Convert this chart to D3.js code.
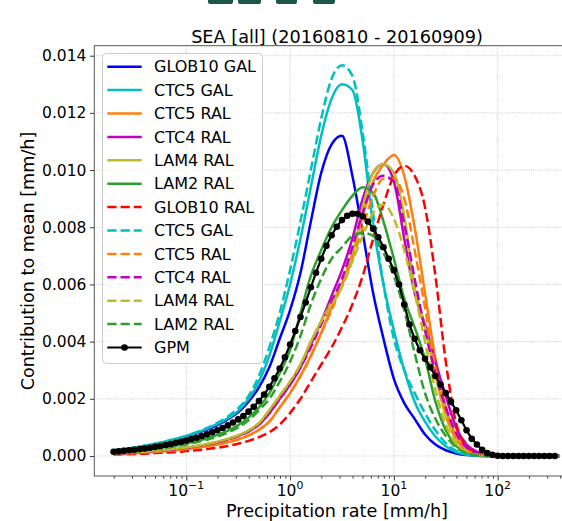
<!DOCTYPE html>
<html><head><meta charset="utf-8">
<script src="https://cdn.jsdelivr.net/npm/d3@7"></script>
<style>
body{margin:0;background:#fff;overflow:hidden}
svg{display:block;font-family:"DejaVu Sans",sans-serif}
</style>
</head><body>
<svg id="chart" width="562" height="521"></svg>
<script>
// ---------------- DATA ----------------
// precipitation-rate bin centres [mm/h] for the model curves
const rates = [0.01995,0.02512,0.03162,0.03981,0.05012,0.0631,0.07943,
  0.1,0.1259,0.1585,0.1995,0.2512,0.3162,0.3981,0.5012,0.631,0.7943,
  1,1.259,1.585,1.995,2.512,3.162,3.981,5.012,6.31,7.943,
  10,12.59,15.85,19.95,25.12,31.62,39.81,50.12,63.1,79.43,
  100,125.9,158.5,199.5,251.2,316.2,398.1];
// bin centres for the GPM observations (marker points)
const gpmRates = [0.01995,0.02239,0.02512,0.02818,0.03162,0.03548,0.03981,0.04467,0.05012,0.05623,0.0631,0.07079,0.07943,0.08913,
  0.1,0.1122,0.1259,0.1413,0.1585,0.1778,0.1995,0.2239,0.2512,0.2818,0.3162,0.3548,0.3981,0.4467,0.5012,0.5623,0.631,0.7079,0.7943,0.8913,
  1,1.122,1.259,1.413,1.585,1.778,1.995,2.239,2.512,2.818,3.162,3.548,3.981,4.467,5.012,5.623,6.31,7.079,7.943,8.913,
  10,11.22,12.59,14.13,15.85,17.78,19.95,22.39,25.12,28.18,31.62,35.48,39.81,44.67,50.12,56.23,63.1,70.79,79.43,89.13,
  100,112.2,125.9,141.3,158.5,177.8,199.5,223.9,251.2,281.8,316.2,354.8];

const glob10Gal = [0.00017,0.00022,0.00027,0.00033,0.0004,0.00048,0.00057,
  0.00067,0.00079,0.00092,0.00108,0.00128,0.00153,0.0019,0.0024,0.0031,0.0041,
  0.0051,0.0064,0.0082,0.0099,0.0109,0.0112,0.0098,0.0078,0.0057,0.0041,
  0.0027,0.00185,0.0013,0.00075,0.0004,0.0002,0.00009,0.00003,0.00001,0,
  0,0,0,0,0,0,0];
const ctc5Gal = [0.0002,0.00025,0.0003,0.00036,0.00043,0.00051,0.0006,
  0.0007,0.00082,0.00096,0.00112,0.00132,0.00158,0.002,0.0026,0.0035,0.0047,
  0.006,0.0076,0.0094,0.0112,0.0125,0.013,0.0128,0.011,0.0081,0.006,
  0.0044,0.003,0.0019,0.0012,0.00068,0.00034,0.00014,0.00005,0.00001,0,
  0,0,0,0,0,0,0];
const ctc5Ral = [0.00007,0.00008,0.0001,0.00012,0.00014,0.00017,0.0002,
  0.00024,0.00029,0.00034,0.0004,0.00048,0.00058,0.00072,0.00092,0.0012,0.0017,
  0.0022,0.0028,0.0035,0.0043,0.0052,0.006,0.0071,0.0084,0.0096,0.0102,
  0.01053,0.0098,0.008,0.0057,0.0034,0.0017,0.0007,0.00027,0.0001,0.00003,
  0,0,0,0,0,0,0];
const ctc4Ral = [0.00008,0.0001,0.00012,0.00014,0.00017,0.0002,0.00024,
  0.00029,0.00034,0.0004,0.00048,0.00058,0.0007,0.00086,0.0011,0.0015,0.002,
  0.0025,0.0031,0.0039,0.0047,0.0056,0.0065,0.0076,0.009,0.0099,0.0102,
  0.0096,0.0076,0.0057,0.0046,0.0033,0.0021,0.001,0.0004,0.00015,0.00004,
  0.00001,0,0,0,0,0,0];
const lam4Ral = [0.00009,0.00011,0.00013,0.00015,0.00018,0.00021,0.00025,
  0.0003,0.00035,0.00042,0.0005,0.0006,0.00072,0.00089,0.00115,0.0016,0.0021,
  0.0026,0.0032,0.004,0.0047,0.0054,0.006,0.007,0.0087,0.0099,0.0102,
  0.0099,0.0084,0.0059,0.0045,0.0028,0.0014,0.00055,0.0002,0.00006,0.00001,
  0,0,0,0,0,0,0];
const lam2Ral = [0.00012,0.00015,0.00018,0.00022,0.00026,0.00031,0.00037,
  0.00044,0.00052,0.00062,0.00074,0.00089,0.00108,0.00135,0.0017,0.0022,0.0029,
  0.0037,0.005,0.0063,0.0072,0.008,0.0086,0.0091,0.0094,0.0092,0.0082,
  0.0069,0.0055,0.0045,0.0034,0.0019,0.0009,0.00035,0.00012,0.00003,0,
  0,0,0,0,0,0,0];
const glob10RalB = [0.00005,0.00006,0.00007,0.00008,0.0001,0.00012,0.00014,
  0.00017,0.0002,0.00024,0.00029,0.00035,0.00043,0.00053,0.00066,0.00083,0.0011,
  0.0015,0.002,0.0026,0.0032,0.0038,0.0045,0.0053,0.0063,0.0076,0.0088,
  0.0098,0.01015,0.0098,0.0087,0.0063,0.0033,0.00114,0.00033,0.0001,0.00002,
  0,0,0,0,0,0,0];
const ctc5GalB = [0.0002,0.00025,0.0003,0.00036,0.00043,0.00051,0.0006,
  0.0007,0.00083,0.00098,0.00116,0.00138,0.00167,0.0021,0.0028,0.0038,0.005,
  0.0065,0.0082,0.01,0.0118,0.0132,0.01367,0.0133,0.0113,0.0085,0.006,
  0.0041,0.003,0.0022,0.0015,0.0009,0.00045,0.00018,0.00006,0.00001,0,
  0,0,0,0,0,0,0];
const ctc5RalB = [0.00007,0.00008,0.0001,0.00012,0.00014,0.00017,0.0002,
  0.00024,0.00029,0.00034,0.0004,0.00048,0.00058,0.00072,0.00092,0.0012,0.0017,
  0.0022,0.0028,0.0035,0.0043,0.0051,0.006,0.0069,0.008,0.0091,0.0097,
  0.0097,0.009,0.0072,0.0052,0.0031,0.0015,0.0006,0.0002,0.00006,0.00001,
  0,0,0,0,0,0,0];
const ctc4RalB = [0.00008,0.0001,0.00012,0.00014,0.00017,0.0002,0.00024,
  0.00029,0.00034,0.0004,0.00048,0.00058,0.0007,0.00086,0.0011,0.0015,0.002,
  0.0025,0.0031,0.0038,0.0046,0.0054,0.0062,0.0073,0.0085,0.0095,0.0098,
  0.0096,0.0081,0.0062,0.0044,0.0029,0.0017,0.0008,0.0003,0.0001,0.00002,
  0,0,0,0,0,0,0];
const lam4RalB = [0.00009,0.00011,0.00013,0.00015,0.00018,0.00021,0.00025,
  0.0003,0.00035,0.00042,0.0005,0.0006,0.00072,0.00089,0.00115,0.0016,0.0021,
  0.0026,0.0032,0.004,0.0047,0.0053,0.0059,0.0068,0.0077,0.0085,0.0088,
  0.0083,0.0072,0.0057,0.004,0.0023,0.0011,0.00042,0.00014,0.00004,0.00001,
  0,0,0,0,0,0,0];
const lam2RalB = [0.0001,0.00013,0.00016,0.0002,0.00024,0.00029,0.00034,
  0.0004,0.00048,0.00057,0.00068,0.00082,0.001,0.00125,0.0016,0.002,0.0026,
  0.0033,0.0042,0.0053,0.0062,0.0069,0.0073,0.0077,0.0078,0.0077,0.0071,
  0.0063,0.0051,0.0036,0.0022,0.0013,0.0007,0.0003,0.0001,0.00002,0,
  0,0,0,0,0,0,0];
const gpm = [0.00015,0.00016,0.00018,0.0002,0.00022,0.00024,0.00026,0.00029,0.00032,0.00035,0.00038,0.00042,0.00046,0.0005,
  0.00054,0.00059,0.00064,0.0007,0.00076,0.00083,0.0009,0.00098,0.00107,0.00117,0.00128,0.0014,0.00155,0.00172,0.00192,0.00215,0.00242,0.00272,0.00306,0.00345,
  0.0039,0.00437,0.00486,0.00537,0.0059,0.00641,0.0069,0.00735,0.00772,0.00802,0.00825,0.0084,0.00847,0.00847,0.00838,0.0082,0.00795,0.00765,0.0073,0.0069,
  0.0065,0.006,0.0053,0.0046,0.0041,0.0037,0.0034,0.0031,0.0028,0.0025,0.0022,0.0019,0.0016,0.00125,0.0009,0.0006,0.0004,0.00022,0.0001,0.00004,
  0.00001,0,0,0,0,0,0,0,0,0,0,0];

const seriesNames = ["GLOB10 GAL","CTC5 GAL","CTC5 RAL","CTC4 RAL","LAM4 RAL","LAM2 RAL",
  "GLOB10 RAL","CTC5 GAL","CTC5 RAL","CTC4 RAL","LAM4 RAL","LAM2 RAL","GPM"];
const yTicks = [0,0.002,0.004,0.006,0.008,0.010,0.012,0.014];
const xTickExps = [-1,0,1,2];
const titleText = "SEA [all] (20160810 - 20160909)";
const xLabel = "Precipitation rate [mm/h]";
const yLabel = "Contribution to mean [mm/h]";

// ---------------- STYLE ----------------
const seriesList = [
  {name: seriesNames[0], values: glob10Gal, color: "#0000ff", dash: null},
  {name: seriesNames[1], values: ctc5Gal, color: "#00bfbf", dash: null},
  {name: seriesNames[2], values: ctc5Ral, color: "#ff7f0e", dash: null},
  {name: seriesNames[3], values: ctc4Ral, color: "#bf00bf", dash: null},
  {name: seriesNames[4], values: lam4Ral, color: "#bcbd22", dash: null},
  {name: seriesNames[5], values: lam2Ral, color: "#2ca02c", dash: null},
  {name: seriesNames[6], values: glob10RalB, color: "#ff0000", dash: "9.25,4"},
  {name: seriesNames[7], values: ctc5GalB, color: "#00bfbf", dash: "9.25,4"},
  {name: seriesNames[8], values: ctc5RalB, color: "#ff7f0e", dash: "9.25,4"},
  {name: seriesNames[9], values: ctc4RalB, color: "#bf00bf", dash: "9.25,4"},
  {name: seriesNames[10], values: lam4RalB, color: "#bcbd22", dash: "9.25,4"},
  {name: seriesNames[11], values: lam2RalB, color: "#2ca02c", dash: "9.25,4"}
];

const svg = d3.select("#chart");
const L = 94.3, R = 580, T = 45.7, B = 476;

const x = d3.scaleLog().domain([Math.pow(10,-1.886), Math.pow(10,2.793)]).range([L, R]);
const y = d3.scaleLinear().domain([-0.0007, 0.01435]).range([B, T]);

// decorative remnants at the top edge
const topBlocks = [[208,233],[238,261],[276,297],[313,335]];
svg.append("g").selectAll("rect").data(topBlocks).join("rect")
  .attr("x", d => d[0]).attr("y", -4).attr("width", d => d[1]-d[0]).attr("height", 8)
  .attr("rx", 2).attr("fill", "#1e5647");

svg.append("defs").append("clipPath").attr("id","clip")
  .append("rect").attr("x", L).attr("y", T).attr("width", R-L).attr("height", B-T);

// grid
const grid = svg.append("g");
grid.selectAll("line.gx").data(xTickExps).join("line")
  .attr("x1", d => x(Math.pow(10,d))).attr("x2", d => x(Math.pow(10,d)))
  .attr("y1", T).attr("y2", B)
  .attr("stroke", "#b0b0b0").attr("stroke-width", 0.8).attr("stroke-dasharray", "0.8,1.3");
grid.selectAll("line.gy").data(yTicks).join("line")
  .attr("x1", L).attr("x2", R)
  .attr("y1", d => y(d)).attr("y2", d => y(d))
  .attr("stroke", "#b0b0b0").attr("stroke-width", 0.8).attr("stroke-dasharray", "0.8,1.3");

// lines
const plot = svg.append("g").attr("clip-path", "url(#clip)");
const line = d3.line().x(d => x(d[0])).y(d => y(d[1])).curve(d3.curveMonotoneX);
seriesList.forEach(s => {
  plot.append("path")
    .datum(rates.map((r,i) => [r, s.values[i]]))
    .attr("d", line)
    .attr("fill", "none").attr("stroke", s.color).attr("stroke-width", 2.5)
    .attr("stroke-dasharray", s.dash).attr("stroke-linejoin","round");
});
const gpmPts = gpmRates.map((r,i) => [r, gpm[i]]);
plot.append("path").datum(gpmPts)
  .attr("d", d3.line().x(d => x(d[0])).y(d => y(d[1])))
  .attr("fill","none").attr("stroke","#000").attr("stroke-width",2.2);
plot.selectAll("circle.gpm").data(gpmPts).join("circle")
  .attr("cx", d => x(d[0])).attr("cy", d => y(d[1])).attr("r", 3.3).attr("fill","#000");

// axes
const majorVals = xTickExps.map(e => Math.pow(10,e));
const minorVals = x.ticks().filter(v => {
  const lg = Math.log10(v); return Math.abs(lg - Math.round(lg)) > 1e-6;
});
const gx = svg.append("g").attr("transform", `translate(0,${B})`)
  .call(d3.axisBottom(x).tickValues(majorVals).tickSize(4.5).tickFormat(""));
const gxm = svg.append("g").attr("transform", `translate(0,${B})`)
  .call(d3.axisBottom(x).tickValues(minorVals).tickSize(2.5).tickFormat(""));
[gx, gxm].forEach(g => { g.select(".domain").remove(); g.selectAll("line").attr("stroke","#222").attr("stroke-width",0.9); });

const xl = svg.append("g");
xTickExps.forEach(e => {
  const t = xl.append("text").attr("x", x(Math.pow(10,e))).attr("y", 496)
    .attr("text-anchor","middle").attr("font-size","15.5px").attr("fill","#000");
  t.append("tspan").text("10");
  t.append("tspan").attr("dy", -7).attr("font-size","10.9px").text(e < 0 ? "\u2212" + Math.abs(e) : String(e));
});

const gy = svg.append("g").attr("transform", `translate(${L},0)`)
  .call(d3.axisLeft(y).tickValues(yTicks).tickSize(4.3).tickPadding(3.6).tickFormat(d3.format(".3f")));
gy.select(".domain").remove();
gy.selectAll("line").attr("stroke","#222").attr("stroke-width",0.9);
gy.selectAll("text").attr("font-size","15.5px").attr("font-family","DejaVu Sans").attr("fill","#000");

// spines
const sp = svg.append("g").attr("fill","none").attr("stroke","#555").attr("stroke-width",1);
sp.append("rect").attr("x", L).attr("y", T).attr("width", R-L).attr("height", B-T);

// labels
svg.append("text").attr("x", 337).attr("y", 42.5).attr("text-anchor","middle")
  .attr("font-size","17.7px").text(titleText);
svg.append("text").attr("x", 337).attr("y", 516.5).attr("text-anchor","middle")
  .attr("font-size","17.6px").text(xLabel);
svg.append("text").attr("transform", `translate(34,261) rotate(-90)`).attr("text-anchor","middle")
  .attr("font-size","17.6px").text(yLabel);

// legend
const lg = svg.append("g");
lg.append("rect").attr("x",102.5).attr("y",53.5).attr("width",160).attr("height",310)
  .attr("rx",4).attr("fill","#fff").attr("fill-opacity",0.8).attr("stroke","#cccccc").attr("stroke-width",1);
const legendItems = seriesList.concat([{name: seriesNames[12], color:"#000", dash:null, marker:true}]);
legendItems.forEach((s,i) => {
  const cy = 66.7 + i*23.4;
  lg.append("line").attr("x1",107.3).attr("x2",141.7).attr("y1",cy).attr("y2",cy)
    .attr("stroke", s.color).attr("stroke-width", s.marker ? 2.2 : 2.5).attr("stroke-dasharray", s.dash);
  if (s.marker) lg.append("circle").attr("cx",124.5).attr("cy",cy).attr("r",3.3).attr("fill","#000");
  lg.append("text").attr("x",154).attr("y",cy).attr("dy","0.36em").attr("font-size","16px").text(s.name);
});
</script>
</body></html>
